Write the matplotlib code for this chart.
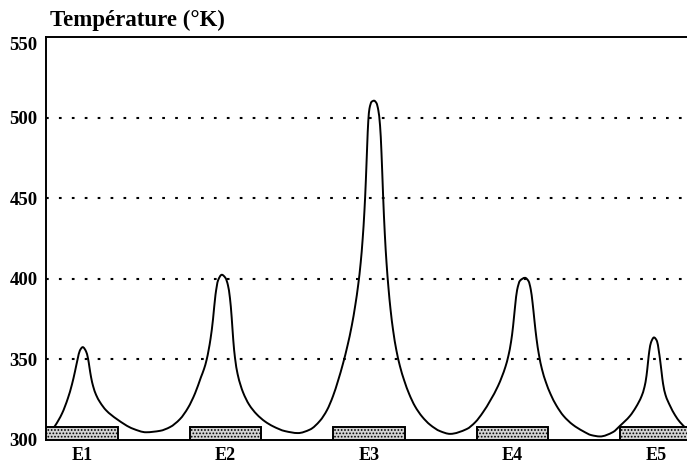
import matplotlib
matplotlib.use("Agg")
import matplotlib.pyplot as plt
import numpy as np
from matplotlib.path import Path
from matplotlib.patches import PathPatch

# ---- data ----
stages = ["E1", "E2", "E3", "E4", "E5"]
stage_pos = [1, 2, 3, 4, 5]
yticks = [300, 350, 400, 450, 500, 550]
grid_levels = [350, 400, 450, 500]

position = [
    # E1 and following minimum
    0.749, 0.812, 0.861, 0.902, 0.930, 0.951, 0.969, 0.985, 1.005, 1.028,
    1.042, 1.052, 1.063, 1.077, 1.098, 1.125, 1.167, 1.242, 1.355, 1.446,
    # E2
    1.544, 1.613, 1.683, 1.739, 1.788, 1.829, 1.850, 1.869, 1.896, 1.913,
    1.930, 1.948, 1.974, 2.000, 2.017, 2.031, 2.043, 2.054, 2.066, 2.084,
    2.105, 2.122, 2.164, 2.217, 2.275, 2.331, 2.415, 2.505,
    # E3
    2.589, 2.659, 2.707, 2.749, 2.785, 2.819, 2.850, 2.880, 2.905, 2.925,
    2.942, 2.956, 2.968, 2.978, 2.987, 2.995, 3.003, 3.018, 3.035, 3.052,
    3.065, 3.077, 3.087, 3.098, 3.110, 3.122, 3.135, 3.150, 3.168, 3.190,
    3.215, 3.245, 3.280, 3.320, 3.370, 3.425, 3.495, 3.565,
    # E4
    3.681, 3.740, 3.795, 3.899, 3.927, 3.951, 3.972, 3.990, 4.004, 4.018,
    4.032, 4.052, 4.087, 4.112, 4.127, 4.140, 4.153, 4.167, 4.184, 4.205,
    4.232, 4.265, 4.305, 4.355, 4.420, 4.491, 4.550, 4.610,
    # E5
    4.700, 4.749, 4.819, 4.861, 4.900, 4.920, 4.934, 4.944, 4.953, 4.965,
    4.986, 5.007, 5.020, 5.028, 5.039, 5.049, 5.066, 5.098, 5.132, 5.167,
    5.214]
temperature = [
    # E1 and following minimum
    301.5, 308.8, 316.5, 326.0, 334.5, 342.5, 350.0, 355.5, 357.6, 355.0,
    350.5, 345.0, 339.0, 333.5, 328.0, 323.5, 318.5, 313.0, 307.0, 304.8,
    # E2
    305.7, 308.0, 313.0, 320.0, 329.0, 339.0, 344.0, 350.0, 363.0, 375.0,
    390.0, 399.0, 402.5, 400.5, 396.0, 388.0, 376.0, 362.0, 351.0, 341.0,
    334.0, 329.6, 322.0, 316.0, 311.5, 308.5, 305.5, 304.3,
    # E3
    306.5, 312.0, 318.5, 327.2, 337.0, 347.5, 358.5, 371.0, 384.0, 396.5,
    410.0, 425.0, 442.0, 461.0, 482.0, 498.0, 505.5, 509.8, 510.5, 509.0,
    504.5, 495.0, 478.0, 452.0, 428.0, 410.0, 395.0, 381.0, 368.0, 356.0,
    346.0, 337.0, 328.5, 321.0, 314.5, 309.5, 305.5, 303.8,
    # E4
    306.8, 311.0, 317.3, 333.5, 339.5, 345.5, 352.5, 361.0, 370.6, 383.0,
    393.0, 398.8, 400.6, 398.5, 393.5, 385.0, 374.0, 363.0, 353.0, 344.0,
    336.0, 328.5, 321.5, 315.0, 309.5, 305.5, 303.0, 302.2,
    # E5
    304.9, 308.8, 315.0, 320.5, 327.3, 333.0, 340.0, 348.0, 355.0, 360.5,
    363.6, 361.3, 355.0, 350.0, 342.0, 335.0, 328.0, 321.2, 315.5, 311.1,
    306.8]
bar_height = 8
bar_width = 0.5

plt.rcParams['font.family'] = ['Liberation Serif', 'DejaVu Serif']
plt.rcParams['font.weight'] = 'bold'
plt.rcParams['hatch.color'] = '#6a6a6a'
plt.rcParams['hatch.linewidth'] = 0.8


def smooth_path(xs, ys):
    """Monotone cubic (Hermite) path through the read points, drawn as Bezier curves."""
    x = np.asarray(xs, float)
    y = np.asarray(ys, float)
    h = np.diff(x)
    delta = np.diff(y) / h
    d = np.zeros_like(y)
    d[0], d[-1] = delta[0], delta[-1]
    for k in range(1, len(x) - 1):
        if delta[k - 1] * delta[k] <= 0:
            d[k] = 0.0
        else:
            w1 = 2 * h[k] + h[k - 1]
            w2 = h[k] + 2 * h[k - 1]
            d[k] = (w1 + w2) / (w1 / delta[k - 1] + w2 / delta[k])
    verts = [(x[0], y[0])]
    codes = [Path.MOVETO]
    for k in range(len(x) - 1):
        verts += [(x[k] + h[k] / 3, y[k] + d[k] * h[k] / 3),
                  (x[k + 1] - h[k] / 3, y[k + 1] - d[k + 1] * h[k] / 3),
                  (x[k + 1], y[k + 1])]
        codes += [Path.CURVE4] * 3
    return Path(verts, codes)


fig = plt.figure(figsize=(6.87, 4.68), dpi=100)
ax = fig.add_axes([46/687, 1-440/468, (687-46)/687 + 0.01, (440-37)/468])

# invisible line keeps the data registered with the axes
ax.plot(position, temperature, color='none')
ax.add_patch(PathPatch(smooth_path(position, temperature), fill=False,
                       edgecolor='black', lw=1.4, zorder=2))
ax.bar(stage_pos, [bar_height]*len(stage_pos), width=bar_width, bottom=300,
       facecolor='#d2d2d2', edgecolor='black', linewidth=1.4, hatch='.....', zorder=3)
for lev in grid_levels:
    ax.axhline(lev, color='black', lw=1.5, linestyle=(0, (1.3, 4.9)), zorder=1)

ax.set_xlim(0.749, 5.216 + 0.01*687/641*4.467)
ax.set_ylim(300, 550)
ax.set_yticks(yticks)
ax.set_yticklabels([str(v) for v in yticks])
ax.set_xticks(stage_pos)
ax.set_xticklabels(stages)
ax.tick_params(axis='both', length=0, labelsize=13.5)
ax.tick_params(axis='y', pad=6)
ax.tick_params(axis='x', pad=5, labelsize=13)
ylabels = ax.get_yticklabels()
ylabels[-1].set_verticalalignment('top')
ylabels[0].set_verticalalignment('center_baseline')
for s in ['left', 'top', 'bottom']:
    ax.spines[s].set_linewidth(1.4)
ax.spines['right'].set_visible(False)

fig.text(50/687, 1-26/468, "Température (°K)", fontsize=16.5, fontweight='bold',
         ha='left', va='baseline')

fig.savefig("out.png", dpi=100)
